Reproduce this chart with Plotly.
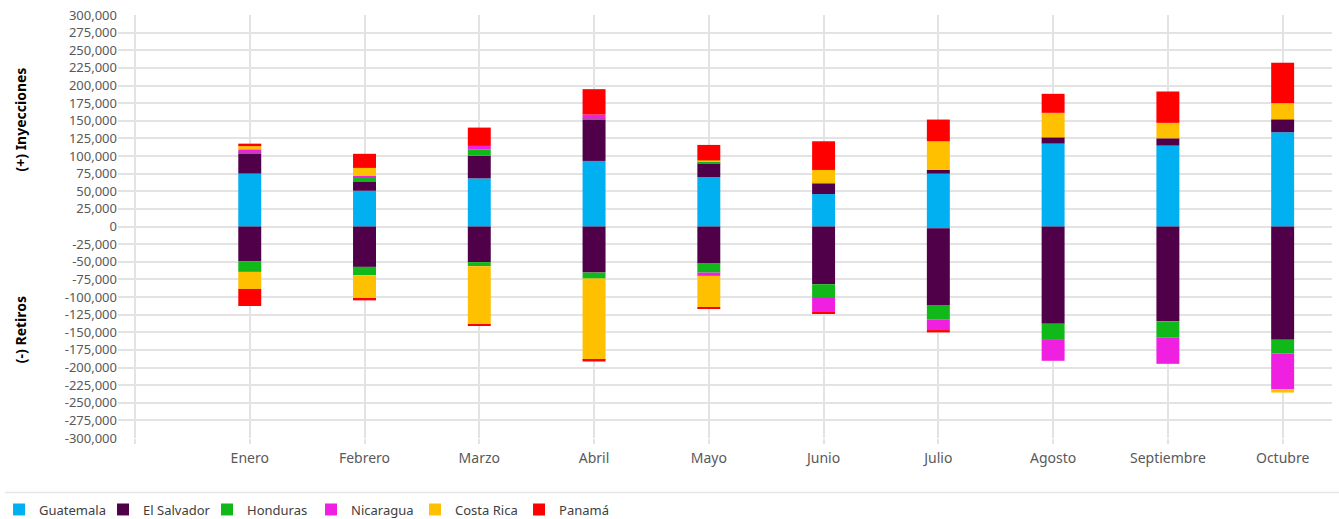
import plotly.graph_objects as go

months = ["Enero", "Febrero", "Marzo", "Abril", "Mayo", "Junio",
          "Julio", "Agosto", "Septiembre", "Octubre"]
axis_slots = [" "] + months

countries = ["Guatemala", "El Salvador", "Honduras", "Nicaragua", "Costa Rica", "Panamá"]
colors = ["#00B0F0", "#4F0048", "#10B81A", "#F020E0", "#FFC000", "#FF0000"]

# (+) Inyecciones
iny_guatemala = [75000, 50700, 68200, 93000, 70200, 46000, 74900, 117600, 114700, 133700]
iny_elsalvador = [28000, 12400, 32300, 58300, 19400, 14300, 5300, 8900, 10400, 17600]
iny_honduras = [1500, 6600, 9000, 1500, 2800, 1500, 0, 0, 0, 0]
iny_nicaragua = [5000, 2000, 4800, 6000, 0, 0, 0, 0, 0, 1000]
iny_costarica = [4500, 11400, 0, 0, 1400, 18400, 40700, 34700, 21900, 22600]
iny_panama = [3500, 20000, 26000, 36000, 21900, 40700, 30800, 27000, 44500, 57400]

# (-) Retiros
ret_guatemala = [0, 0, 0, 0, 0, 0, -2400, 0, 0, 0]
ret_elsalvador = [-49200, -57300, -50600, -65400, -52600, -81900, -108900, -137900, -134500, -160700]
ret_honduras = [-15200, -11800, -5700, -8500, -12800, -19500, -20900, -21800, -23300, -19300]
ret_nicaragua = [0, 0, 0, 0, -4700, -20300, -14700, -30800, -37000, -50800]
ret_costarica = [-24200, -33700, -82500, -115200, -44100, 0, 0, 0, 0, -4700]
ret_panama = [-24200, -2000, -2000, -2400, -2400, -1500, -3300, 0, 0, 0]

iny = [iny_guatemala, iny_elsalvador, iny_honduras, iny_nicaragua, iny_costarica, iny_panama]
ret = [ret_guatemala, ret_elsalvador, ret_honduras, ret_nicaragua, ret_costarica, ret_panama]

y_ticks = list(range(-300000, 300001, 25000))

fig = go.Figure()
for name, col, vals in zip(countries, colors, iny):
    fig.add_trace(go.Bar(x=months, y=vals, name=name, marker=dict(color=col, line=dict(width=0)),
                         legendgroup=name, showlegend=True))
for name, col, vals in zip(countries, colors, ret):
    fig.add_trace(go.Bar(x=months, y=vals, name=name, marker=dict(color=col, line=dict(width=0)),
                         legendgroup=name, showlegend=False))

grid = "#E3E3E3"
fig.update_layout(
    width=1339, height=519,
    barmode="relative", bargap=0.8,
    paper_bgcolor="white", plot_bgcolor="white",
    margin=dict(l=118, r=7, t=15, b=81, autoexpand=False),
    font=dict(family="Noto Sans", size=13, color="#595959"),
    xaxis=dict(type="category", categoryorder="array", categoryarray=axis_slots,
               range=[-0.148, 10.43], showgrid=True, gridcolor=grid, gridwidth=1.5,
               ticks="outside", ticklen=5, tickcolor=grid, tickwidth=1.5,
               ticklabelstandoff=2, automargin=False,
               tickfont=dict(size=14, color="#595959"), showline=False, zeroline=False),
    yaxis=dict(range=[-300000, 300000], tickvals=y_ticks,
               ticktext=[f"{v:,}" for v in y_ticks], automargin=False,
               showgrid=True, gridcolor=grid, gridwidth=1.5,
               zeroline=True, zerolinecolor=grid, zerolinewidth=1.5,
               tickfont=dict(size=13, color="#595959"), showline=False, ticks=""),
    legend=dict(orientation="h", x=-0.098, xanchor="left", y=-0.169, yanchor="middle",
                font=dict(size=13, color="#404040"), entrywidth=59, entrywidthmode="pixels",
                itemsizing="constant", traceorder="normal"),
    annotations=[
        dict(text="<b>(+) Inyecciones</b>", xref="paper", yref="paper", x=-0.0807, y=0.753,
             xanchor="center", yanchor="middle",
             textangle=-90, showarrow=False, font=dict(size=14, color="black")),
        dict(text="<b>(-) Retiros</b>", xref="paper", yref="paper", x=-0.0807, y=0.255,
             xanchor="center", yanchor="middle",
             textangle=-90, showarrow=False, font=dict(size=14, color="black")),
    ],
    shapes=[dict(type="line", xref="paper", yref="paper", x0=-0.093, x1=1.006,
                 y0=-0.1287, y1=-0.1287, line=dict(color="#E6E6E6", width=1.5))],
)

fig.write_html("out.html", config={"displayModeBar": False},
               post_script="document.body.style.margin='0';document.body.style.padding='0';")
